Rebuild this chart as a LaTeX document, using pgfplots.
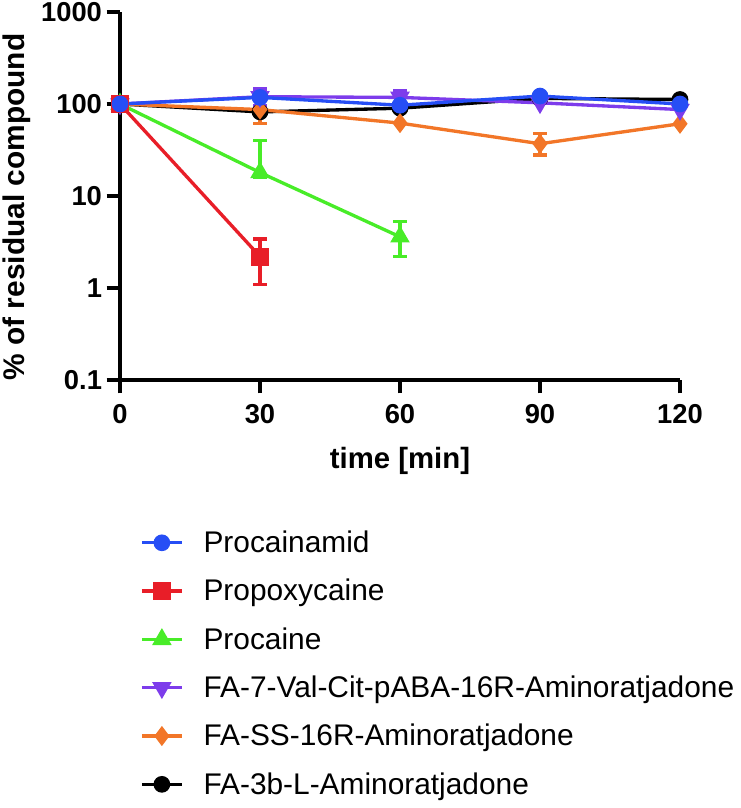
\documentclass[border=0pt]{standalone}
\usepackage{fontspec}
\setmainfont{Liberation Sans}
\usepackage{pgfplots}
\pgfplotsset{compat=1.18}
\definecolor{cblue}{RGB}{38,78,245}
\definecolor{cred}{RGB}{232,30,40}
\definecolor{cgreen}{RGB}{72,236,40}
\definecolor{cpurple}{RGB}{125,60,235}
\definecolor{corange}{RGB}{242,118,40}
\begin{document}
\begin{tikzpicture}
\useasboundingbox (-90pt,-321pt) rectangle (465.75pt,285pt);
\begin{axis}[
  at={(0,0)}, anchor=south west,
  width=420pt, height=276pt, scale only axis,
  xmin=0, xmax=120, ymin=0.1, ymax=1000, ymode=log,
  axis lines=left, axis line style={-, line width=3pt},
  xtick={0,30,60,90,120}, xticklabels={0,30,60,90,120},
  ytick={0.1,1,10,100,1000}, yticklabels={0.1,1,10,100,1000},
  yminorticks=false, xminorticks=false,
  tick align=outside, major tick length=10pt,
  tick style={line width=3pt, black},
  ticklabel style={font=\bfseries\fontsize{20.5}{21}\selectfont},
  xticklabel style={yshift=-5pt},
  clip=false,
  xlabel={time [min]}, ylabel={\% of residual compound},
  every axis x label/.style={at={(axis description cs:0.5,-0.22)}, anchor=center,
    font=\bfseries\fontsize{22}{23}\selectfont},
  every axis y label/.style={at={(axis description cs:-0.185,0.47)}, anchor=center, rotate=90,
    font=\bfseries\fontsize{22.4}{23}\selectfont},
  every axis plot/.append style={line width=2.5pt},
  error bars/y dir=both, error bars/y explicit,
  error bars/error bar style={line width=2.5pt},
  error bars/error mark options={rotate=90, mark size=5pt, line width=2.5pt},
  reverse legend,
  legend style={at={(axis description cs:0.0285,-0.395)}, anchor=north west, draw=none, fill=none,
    font=\fontsize{22.4}{23}\selectfont, row sep=14.5pt, legend cell align=left,
    /tikz/every odd column/.append style={column sep=13pt}},
  legend image code/.code={\draw[mark repeat=2, mark phase=2, #1] plot coordinates {(0pt,0pt) (15pt,0pt) (30pt,0pt)};},
]
% drawn in reverse so that Procainamid lies on top
\addplot[black, mark=*, mark size=5pt, mark options={solid, fill=black}]
  coordinates {(0,100) (30,82) (60,90) (90,115) (120,112)};
\addlegendentry{FA-3b-L-Aminoratjadone}
\addplot[corange, mark=diamond*, mark size=5.5pt, mark options={solid, fill=corange}]
  coordinates {(0,100) (30,87) += (0,26) -= (0,26) (60,62) (90,37) += (0,11) -= (0,9) (120,61)};
\addlegendentry{FA-SS-16R-Aminoratjadone}
\addplot[cpurple, mark=triangle*, mark size=6pt, mark options={solid, fill=cpurple, rotate=180}]
  coordinates {(0,100) (30,120) += (0,25) -= (0,25) (60,118) += (0,23) -= (0,23) (90,103) (120,87)};
\addlegendentry{FA-7-Val-Cit-pABA-16R-Aminoratjadone}
\addplot[cgreen, mark=triangle*, mark size=6pt, mark options={solid, fill=cgreen}]
  coordinates {(0,100) (30,18) += (0,22) -= (0,2) (60,3.6) += (0,1.7) -= (0,1.4)};
\addlegendentry{Procaine}
\addplot[cred, mark=square*, mark size=5.5pt, mark options={solid, fill=cred}]
  coordinates {(0,100) (30,2.2) += (0,1.2) -= (0,1.1)};
\addlegendentry{Propoxycaine}
\addplot[cblue, mark=*, mark size=5pt, mark options={solid, fill=cblue}]
  coordinates {(0,100) (30,118) (60,97) (90,122) (120,100)};
\addlegendentry{Procainamid}
\end{axis}
\end{tikzpicture}
\end{document}
